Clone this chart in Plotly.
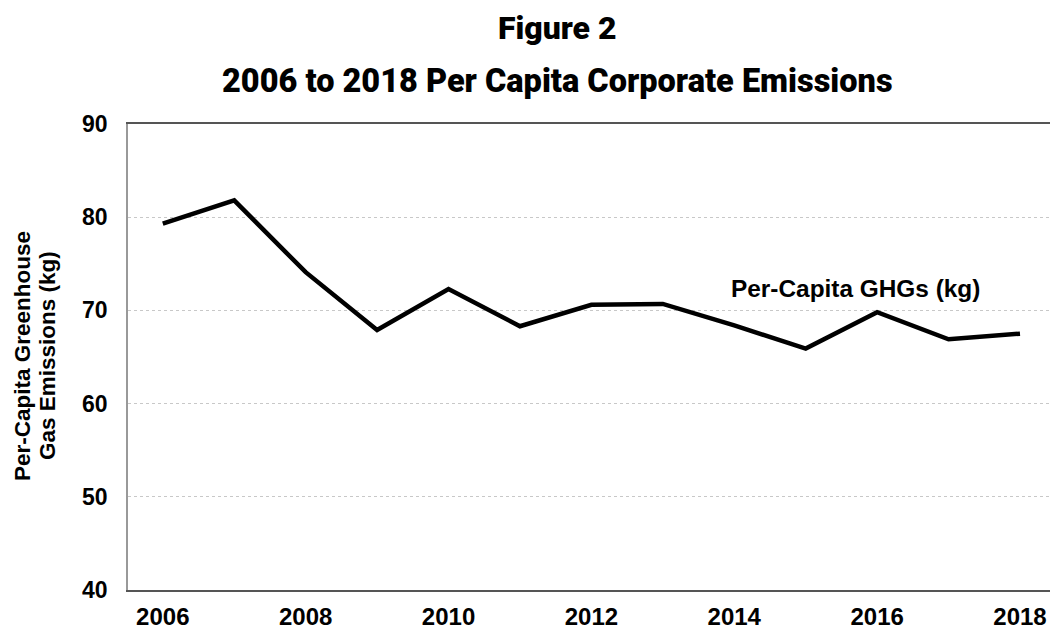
import plotly.graph_objects as go

# Per-capita corporate greenhouse gas emissions, kg per person
years = [2006, 2007, 2008, 2009, 2010, 2011, 2012, 2013, 2014, 2015, 2016, 2017, 2018]
ghg_kg = [79.3, 81.8, 74.1, 67.9, 72.3, 68.3, 70.6, 70.7, 68.4, 65.9, 69.8, 66.9, 67.5]

x_tick_vals = [2006, 2008, 2010, 2012, 2014, 2016, 2018]
y_tick_vals = [40, 50, 60, 70, 80, 90]

title_line1 = "Figure 2"
title_line2 = "2006 to 2018 Per Capita Corporate Emissions"
y_title_lines = ["Per-Capita Greenhouse", "Gas Emissions (kg)"]
series_label = "Per-Capita GHGs (kg)"

W, H = 1050, 630
M_L, M_R, M_T, M_B = 128, 0, 124, 40
PW, PH = W - M_L - M_R, H - M_T - M_B


def px_x(px):
    return (px - M_L) / PW


def px_y(py):
    return (H - M_B - py) / PH


TITLE_FONT = "Roboto, Liberation Sans, sans-serif"
BODY_FONT = "Liberation Sans, Arial, sans-serif"

fig = go.Figure()
fig.add_trace(go.Scatter(
    x=years, y=ghg_kg, mode="lines",
    line=dict(color="#000000", width=4.5),
    showlegend=False, hoverinfo="x+y",
))

annotations = [
    dict(text=title_line1, x=px_x(557), y=px_y(28), xref="paper", yref="paper",
         xanchor="center", yanchor="middle", showarrow=False,
         font=dict(family=TITLE_FONT, size=32, weight=900, color="#000")),
    dict(text=title_line2, x=px_x(557), y=px_y(81), xref="paper", yref="paper",
         xanchor="center", yanchor="middle", showarrow=False,
         font=dict(family=TITLE_FONT, size=32.5, weight=900, color="#000")),
    dict(text=f"<b>{y_title_lines[0]}</b>", x=px_x(22), y=px_y(356), xref="paper", yref="paper",
         xanchor="center", yanchor="middle", textangle=-90, showarrow=False,
         font=dict(family=BODY_FONT, size=22.5, color="#000")),
    dict(text=f"<b>{y_title_lines[1]}</b>", x=px_x(47), y=px_y(356), xref="paper", yref="paper",
         xanchor="center", yanchor="middle", textangle=-90, showarrow=False,
         font=dict(family=BODY_FONT, size=22.5, color="#000")),
    dict(text=f"<b>{series_label}</b>", x=2015.70, y=72.4, xref="x", yref="y",
         xanchor="center", yanchor="middle", showarrow=False,
         font=dict(family=BODY_FONT, size=24.4, color="#000")),
]

fig.update_layout(
    width=W, height=H,
    margin=dict(l=M_L, r=M_R, t=M_T, b=M_B, pad=0, autoexpand=False),
    paper_bgcolor="#ffffff", plot_bgcolor="#ffffff",
    annotations=annotations,
    font=dict(family=BODY_FONT, color="#000"),
)

fig.update_xaxes(
    range=[2005.513, 2018.42], automargin=False,
    tickmode="array", tickvals=x_tick_vals,
    ticktext=[f"<b>{v}</b>" for v in x_tick_vals],
    tickfont=dict(family=BODY_FONT, size=24, color="#000"),
    ticks="", showgrid=False, zeroline=False,
    showline=True, linecolor="#555555", linewidth=2, mirror=True,
    ticklabelstandoff=4, ticklabeloverflow="allow",
)
fig.update_yaxes(
    range=[40, 90], automargin=False,
    tickmode="array", tickvals=y_tick_vals,
    ticktext=[f"<b>{v}</b>" for v in y_tick_vals],
    tickfont=dict(family=BODY_FONT, size=23, color="#000"),
    ticks="", showgrid=True, gridcolor="#c8c8c8", griddash="dot", gridwidth=1,
    zeroline=False,
    showline=True, linecolor="#999999", linewidth=1.5,
    ticklabelstandoff=14,
)

fig.write_html("out.html")
